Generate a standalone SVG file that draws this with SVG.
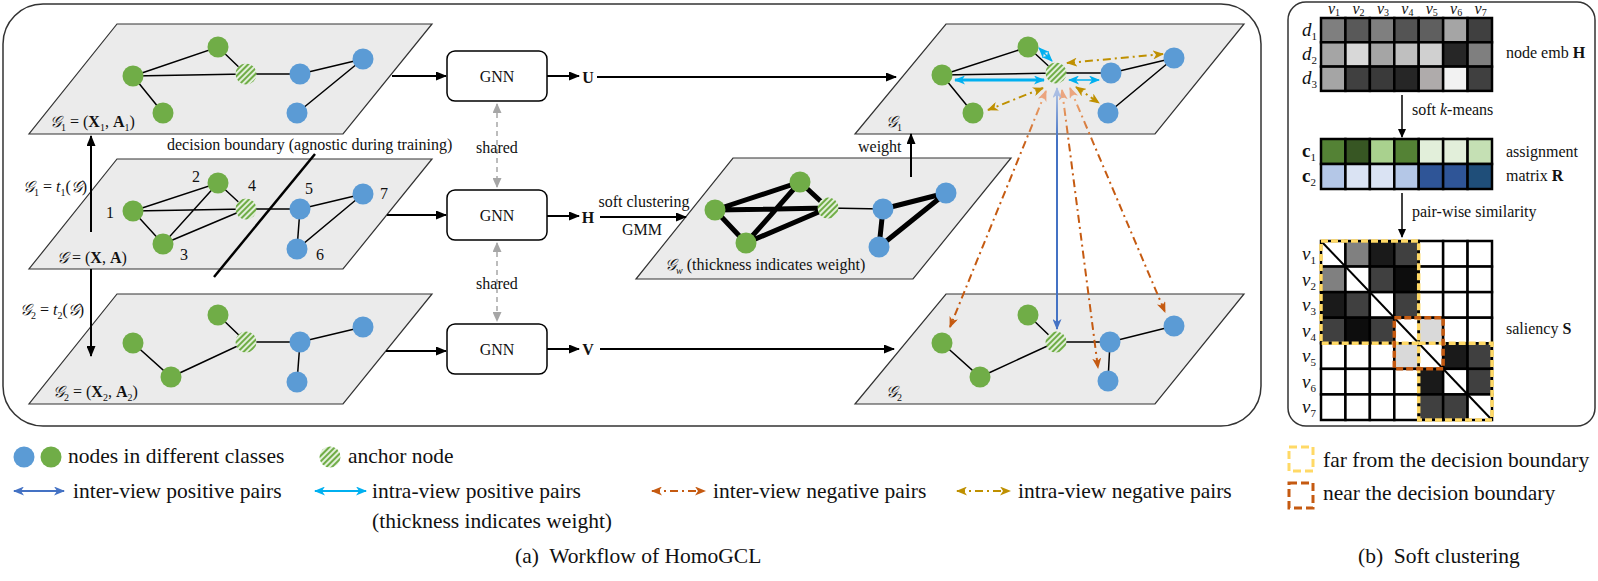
<svg xmlns="http://www.w3.org/2000/svg" width="1598" height="581" viewBox="0 0 1598 581">
<style>
text{font-family:"Liberation Serif","Times New Roman",serif;fill:#111}
.t16{font-size:16px}
.t21{font-size:21.5px}
.scr{font-family:"DejaVu Serif","DejaVu Sans","Noto Sans",serif;font-style:italic}
.plane{fill:#ebebeb;stroke:#333;stroke-width:1.2}
.e{stroke:#000;stroke-width:1.5;fill:none}
.ew{stroke:#000;stroke-width:5;fill:none;stroke-linecap:round}
.g{fill:#70ad47}
.b{fill:#5b9bd5}
.a{fill:url(#hatch)}
.box{fill:#fff;stroke:#000;stroke-width:1.5}
.arr{stroke:#000;stroke-width:2;fill:none;marker-end:url(#mBlack)}
.shr{stroke:#a6a6a6;stroke-width:1.5;stroke-dasharray:5 4;fill:none;marker-start:url(#mGray);marker-end:url(#mGray)}
.cy{stroke:#00b0f0;fill:none;marker-start:url(#mCyan);marker-end:url(#mCyan)}
.gd{stroke:#bf9000;stroke-width:2;stroke-dasharray:8 4 2 4;fill:none;marker-start:url(#mGold);marker-end:url(#mGold)}
.or{stroke:url(#gOr);stroke-width:2;stroke-dasharray:8 4 2 4;fill:none;marker-start:url(#mSal);marker-end:url(#mOr)}
.cell{stroke:#000;stroke-width:2.5}
.yb{fill:none;stroke:#ffd966;stroke-width:3.5;stroke-dasharray:7 3}
.ob{fill:none;stroke:#c55a11;stroke-width:3.5;stroke-dasharray:7 3}
</style>
<defs>
<pattern id="hatch" width="4" height="4" patternUnits="userSpaceOnUse" patternTransform="rotate(45)">
<rect width="4" height="4" fill="#e2efda"/><rect width="2" height="4" fill="#70ad47"/>
</pattern>
<linearGradient id="gOr" gradientUnits="userSpaceOnUse" x1="0" y1="90" x2="0" y2="150">
<stop offset="0" stop-color="#f4b183"/><stop offset="1" stop-color="#c55a11"/>
</linearGradient>
<linearGradient id="gBl" gradientUnits="userSpaceOnUse" x1="0" y1="88" x2="0" y2="140">
<stop offset="0" stop-color="#b4c7e7"/><stop offset="1" stop-color="#4472c4"/>
</linearGradient>
<marker id="mBlack" markerUnits="userSpaceOnUse" markerWidth="11" markerHeight="9" refX="10" refY="4.5" orient="auto"><path d="M0,0 L11,4.5 L0,9 z" fill="#000"/></marker>
<marker id="mGray" markerUnits="userSpaceOnUse" markerWidth="10" markerHeight="9" refX="9" refY="4.5" orient="auto-start-reverse"><path d="M0,0 L10,4.5 L0,9 z" fill="#a6a6a6"/></marker>
<marker id="mBlue" markerUnits="userSpaceOnUse" markerWidth="11" markerHeight="9" refX="10" refY="4.5" orient="auto-start-reverse"><path d="M0,0 L11,4.5 L0,9 L3,4.5 z" fill="#4472c4"/></marker>
<marker id="mBlueF" markerUnits="userSpaceOnUse" markerWidth="11" markerHeight="9" refX="10" refY="4.5" orient="auto-start-reverse"><path d="M0,0 L11,4.5 L0,9 L3,4.5 z" fill="#a9bde3"/></marker>
<marker id="mCyan" markerUnits="userSpaceOnUse" markerWidth="11" markerHeight="9" refX="10" refY="4.5" orient="auto-start-reverse"><path d="M0,0 L11,4.5 L0,9 L3,4.5 z" fill="#00b0f0"/></marker>
<marker id="mGold" markerUnits="userSpaceOnUse" markerWidth="11" markerHeight="9" refX="10" refY="4.5" orient="auto-start-reverse"><path d="M0,0 L11,4.5 L0,9 L3,4.5 z" fill="#bf9000"/></marker>
<marker id="mOr" markerUnits="userSpaceOnUse" markerWidth="11" markerHeight="9" refX="10" refY="4.5" orient="auto-start-reverse"><path d="M0,0 L11,4.5 L0,9 L3,4.5 z" fill="#c55a11"/></marker>
<marker id="mSal" markerUnits="userSpaceOnUse" markerWidth="11" markerHeight="9" refX="10" refY="4.5" orient="auto-start-reverse"><path d="M0,0 L11,4.5 L0,9 L3,4.5 z" fill="#eba57f"/></marker>
<marker id="mB2" markerUnits="userSpaceOnUse" markerWidth="9" markerHeight="8" refX="8" refY="4" orient="auto"><path d="M0,0 L9,4 L0,8 z" fill="#000"/></marker>
</defs>
<rect width="1598" height="581" fill="#fff"/>

<!-- panels -->
<rect id="panelA" x="3" y="4" width="1258" height="422" rx="40" fill="none" stroke="#333" stroke-width="1.5"/>
<rect id="panelB" x="1288" y="2" width="307" height="424" rx="18" fill="none" stroke="#333" stroke-width="1.5"/>

<!-- G1 plane -->
<g id="G1">
<polygon class="plane" points="117,24 432,24 343,134 29,134"/>
<path class="e" d="M133,76 L218,47 L246,74 M133,76 L246,74 L300,74 L363,59 L297,113 M133,76 L163,113"/>
<circle class="g" cx="133" cy="76" r="10.5"/><circle class="g" cx="218" cy="47" r="10.5"/><circle class="g" cx="163" cy="113" r="10.5"/>
<circle class="a" cx="246" cy="74" r="10.5"/>
<circle class="b" cx="300" cy="74" r="10.5"/><circle class="b" cx="363" cy="59" r="10.5"/><circle class="b" cx="297" cy="113" r="10.5"/>
<text x="50" y="127" class="t16"><tspan class="scr">𝒢</tspan><tspan font-size="10" dy="4">1</tspan><tspan dy="-4"> = (</tspan><tspan font-weight="bold">X</tspan><tspan font-size="10" dy="4">1</tspan><tspan dy="-4">, </tspan><tspan font-weight="bold">A</tspan><tspan font-size="10" dy="4">1</tspan><tspan dy="-4">)</tspan></text>
</g>

<!-- G plane -->
<g id="G">
<polygon class="plane" points="117,159 432,159 343,269 29,269"/>
<path class="e" d="M133,211 L218,183 L246,209 M133,211 L246,209 L300,209 L363,194 L297,249 L300,209 M133,211 L163,244 L218,183 M163,244 L246,209"/>
<circle class="g" cx="133" cy="211" r="10.5"/><circle class="g" cx="218" cy="183" r="10.5"/><circle class="g" cx="163" cy="244" r="10.5"/>
<circle class="a" cx="246" cy="209" r="10.5"/>
<circle class="b" cx="300" cy="209" r="10.5"/><circle class="b" cx="363" cy="194" r="10.5"/><circle class="b" cx="297" cy="249" r="10.5"/>
<text class="t16" x="106" y="218">1</text><text class="t16" x="192" y="182">2</text><text class="t16" x="180" y="260">3</text>
<text class="t16" x="248" y="191">4</text><text class="t16" x="305" y="194">5</text><text class="t16" x="316" y="260">6</text><text class="t16" x="380" y="199">7</text>
<text x="57" y="263" class="t16"><tspan class="scr">𝒢</tspan> = (<tspan font-weight="bold">X</tspan>, <tspan font-weight="bold">A</tspan>)</text>
</g>

<!-- G2 plane -->
<g id="G2">
<polygon class="plane" points="117,294 432,294 343,404 29,404"/>
<path class="e" d="M133,343 L171,377 L246,342 L300,342 L363,327 M218,315 L246,342 M300,342 L297,382"/>
<circle class="g" cx="133" cy="343" r="10.5"/><circle class="g" cx="218" cy="315" r="10.5"/><circle class="g" cx="171" cy="377" r="10.5"/>
<circle class="a" cx="246" cy="342" r="10.5"/>
<circle class="b" cx="300" cy="342" r="10.5"/><circle class="b" cx="363" cy="327" r="10.5"/><circle class="b" cx="297" cy="382" r="10.5"/>
<text x="53" y="397" class="t16"><tspan class="scr">𝒢</tspan><tspan font-size="10" dy="4">2</tspan><tspan dy="-4"> = (</tspan><tspan font-weight="bold">X</tspan><tspan font-size="10" dy="4">2</tspan><tspan dy="-4">, </tspan><tspan font-weight="bold">A</tspan><tspan font-size="10" dy="4">2</tspan><tspan dy="-4">)</tspan></text>
</g>

<!-- decision boundary -->
<g id="boundary">
<line x1="315" y1="154" x2="214" y2="277" stroke="#000" stroke-width="2.5"/>
<text x="167" y="150" class="t16">decision boundary (agnostic during training)</text>
</g>

<!-- GNN boxes -->
<g id="gnn1"><rect class="box" x="447" y="51" width="100" height="50" rx="8"/><text class="t16" x="497" y="82" text-anchor="middle">GNN</text></g>
<g id="gnn2"><rect class="box" x="447" y="190" width="100" height="50" rx="8"/><text class="t16" x="497" y="221" text-anchor="middle">GNN</text></g>
<g id="gnn3"><rect class="box" x="447" y="324" width="100" height="50" rx="8"/><text class="t16" x="497" y="355" text-anchor="middle">GNN</text></g>

<!-- Gw plane -->
<g id="Gw">
<polygon class="plane" points="733,158 1011,158 913,279 636,279"/>
<line class="e" x1="828" y1="208" x2="883" y2="209"/>
<path class="ew" d="M715,210 L800,182 L828,208 M715,210 L828,208 L746,243 L800,182 M715,210 L746,243 M883,209 L946,193 L879,247 Z"/>
<circle class="g" cx="715" cy="210" r="10.5"/><circle class="g" cx="800" cy="182" r="10.5"/><circle class="g" cx="746" cy="243" r="10.5"/>
<circle class="a" cx="828" cy="208" r="10.5"/>
<circle class="b" cx="883" cy="209" r="10.5"/><circle class="b" cx="946" cy="193" r="10.5"/><circle class="b" cx="879" cy="247" r="10.5"/>
<text x="665" y="270" class="t16"><tspan class="scr">𝒢</tspan><tspan font-size="10" font-style="italic" dy="4">w</tspan><tspan dy="-4">  (thickness indicates weight)</tspan></text>
</g>

<!-- G1' plane -->
<g id="G1v">
<polygon class="plane" points="946,24 1244,24 1155,134 855,134"/>
<path class="e" d="M942,75 L1028,47 L1056,73 M942,75 L1056,73 L1111,73 L1174,58 L1108,113 M942,75 L973,113"/>
<circle class="g" cx="942" cy="75" r="10.5"/><circle class="g" cx="1028" cy="47" r="10.5"/><circle class="g" cx="973" cy="113" r="10.5"/>
<circle class="a" cx="1056" cy="73" r="10.5"/>
<circle class="b" cx="1111" cy="73" r="10.5"/><circle class="b" cx="1174" cy="58" r="10.5"/><circle class="b" cx="1108" cy="113" r="10.5"/>
<text x="886" y="127" class="t16"><tspan class="scr">𝒢</tspan><tspan font-size="10" dy="4">1</tspan></text>
</g>

<!-- G2' plane -->
<g id="G2v">
<polygon class="plane" points="946,294 1244,294 1155,404 855,404"/>
<path class="e" d="M942,343 L980,377 L1056,342 L1110,342 L1174,326 M1028,315 L1056,342 M1110,342 L1108,381"/>
<circle class="g" cx="942" cy="343" r="10.5"/><circle class="g" cx="1028" cy="315" r="10.5"/><circle class="g" cx="980" cy="377" r="10.5"/>
<circle class="a" cx="1056" cy="342" r="10.5"/>
<circle class="b" cx="1110" cy="342" r="10.5"/><circle class="b" cx="1174" cy="326" r="10.5"/><circle class="b" cx="1108" cy="381" r="10.5"/>
<text x="886" y="397" class="t16"><tspan class="scr">𝒢</tspan><tspan font-size="10" dy="4">2</tspan></text>
</g>

<!-- connectors -->
<g id="connectors">
<line class="arr" x1="91" y1="232" x2="91" y2="136"/>
<line class="arr" x1="91" y1="269" x2="91" y2="356"/>
<text x="23" y="192" class="t16"><tspan class="scr">𝒢</tspan><tspan font-size="10" dy="4">1</tspan><tspan dy="-4"> = </tspan><tspan font-style="italic">t</tspan><tspan font-size="10" dy="4">1</tspan><tspan dy="-4">(</tspan><tspan class="scr">𝒢</tspan>)</text>
<text x="20" y="315" class="t16"><tspan class="scr">𝒢</tspan><tspan font-size="10" dy="4">2</tspan><tspan dy="-4"> = </tspan><tspan font-style="italic">t</tspan><tspan font-size="10" dy="4">2</tspan><tspan dy="-4">(</tspan><tspan class="scr">𝒢</tspan>)</text>

<line class="arr" x1="392" y1="76" x2="446" y2="76"/>
<line class="arr" x1="387" y1="215" x2="446" y2="215"/>
<line class="arr" x1="386" y1="351" x2="446" y2="351"/>

<line class="shr" x1="497" y1="104" x2="497" y2="187"/>
<text class="t16" x="497" y="153" text-anchor="middle">shared</text>
<line class="shr" x1="497" y1="243" x2="497" y2="321"/>
<text class="t16" x="497" y="289" text-anchor="middle">shared</text>

<line class="arr" x1="547" y1="76" x2="579" y2="76"/>
<text class="t16" x="588" y="83" text-anchor="middle" font-weight="bold">U</text>
<line class="arr" x1="597" y1="77" x2="896" y2="77"/>

<line class="arr" x1="547" y1="216" x2="579" y2="216"/>
<text class="t16" x="588" y="223" text-anchor="middle" font-weight="bold">H</text>
<line class="arr" x1="600" y1="217" x2="686" y2="217"/>
<text class="t16" x="644" y="207" text-anchor="middle">soft clustering</text>
<text class="t16" x="642" y="235" text-anchor="middle">GMM</text>

<line class="arr" x1="547" y1="349" x2="579" y2="349"/>
<text class="t16" x="588" y="355" text-anchor="middle" font-weight="bold">V</text>
<line class="arr" x1="600" y1="349" x2="894" y2="349"/>

<line class="arr" x1="911" y1="177" x2="911" y2="134"/>
<text class="t16" x="858" y="152">weight</text>

<!-- contrast pairs -->
<line class="cy" stroke-width="3" x1="955" y1="80" x2="1044" y2="80"/>
<line class="cy" stroke-width="1.5" x1="1069" y1="80" x2="1099" y2="80"/>
<line class="cy" stroke-width="1.5" x1="1039" y1="48" x2="1052" y2="61"/>
<line class="gd" x1="1067" y1="63" x2="1163" y2="54"/>
<line class="gd" x1="1043" y1="88" x2="988" y2="110"/>
<line class="gd" x1="1076" y1="87" x2="1099" y2="103"/>
<line class="or" x1="1046" y1="91" x2="950" y2="327"/>
<line class="or" x1="1062" y1="90" x2="1098" y2="368"/>
<line class="or" x1="1070" y1="88" x2="1165" y2="312"/>
<line x1="1057" y1="88" x2="1057" y2="329" stroke="url(#gBl)" stroke-width="2" marker-start="url(#mBlueF)" marker-end="url(#mBlue)"/>
</g>

<!-- soft clustering panel -->
<g id="matH">
<g class="cell">
<rect x="1321" y="18" width="24.43" height="24.3" fill="#7f7f7f"/><rect x="1345.43" y="18" width="24.43" height="24.3" fill="#595959"/><rect x="1369.86" y="18" width="24.43" height="24.3" fill="#7f7f7f"/><rect x="1394.29" y="18" width="24.43" height="24.3" fill="#545454"/><rect x="1418.71" y="18" width="24.43" height="24.3" fill="#5f5f5f"/><rect x="1443.14" y="18" width="24.43" height="24.3" fill="#a5a5a5"/><rect x="1467.57" y="18" width="24.43" height="24.3" fill="#404040"/>
<rect x="1321" y="42.3" width="24.43" height="24.3" fill="#a5a5a5"/><rect x="1345.43" y="42.3" width="24.43" height="24.3" fill="#d8d8d8"/><rect x="1369.86" y="42.3" width="24.43" height="24.3" fill="#a5a5a5"/><rect x="1394.29" y="42.3" width="24.43" height="24.3" fill="#bfbfbf"/><rect x="1418.71" y="42.3" width="24.43" height="24.3" fill="#d0d0d0"/><rect x="1443.14" y="42.3" width="24.43" height="24.3" fill="#262626"/><rect x="1467.57" y="42.3" width="24.43" height="24.3" fill="#7f7f7f"/>
<rect x="1321" y="66.6" width="24.43" height="24.3" fill="#a5a5a5"/><rect x="1345.43" y="66.6" width="24.43" height="24.3" fill="#404040"/><rect x="1369.86" y="66.6" width="24.43" height="24.3" fill="#3a3a3a"/><rect x="1394.29" y="66.6" width="24.43" height="24.3" fill="#262626"/><rect x="1418.71" y="66.6" width="24.43" height="24.3" fill="#afabab"/><rect x="1443.14" y="66.6" width="24.43" height="24.3" fill="#f2f2f2"/><rect x="1467.57" y="66.6" width="24.43" height="24.3" fill="#404040"/>
</g>
<g font-size="16" font-style="italic">
<text x="1328" y="14">v<tspan font-size="10" font-style="normal" dy="2">1</tspan></text>
<text x="1352.4" y="14">v<tspan font-size="10" font-style="normal" dy="2">2</tspan></text>
<text x="1376.9" y="14">v<tspan font-size="10" font-style="normal" dy="2">3</tspan></text>
<text x="1401.3" y="14">v<tspan font-size="10" font-style="normal" dy="2">4</tspan></text>
<text x="1425.7" y="14">v<tspan font-size="10" font-style="normal" dy="2">5</tspan></text>
<text x="1450.1" y="14">v<tspan font-size="10" font-style="normal" dy="2">6</tspan></text>
<text x="1474.6" y="14">v<tspan font-size="10" font-style="normal" dy="2">7</tspan></text>
</g>
<g font-size="19" font-style="italic">
<text x="1302" y="36">d<tspan font-size="11" font-style="normal" dy="4">1</tspan></text>
<text x="1302" y="60">d<tspan font-size="11" font-style="normal" dy="4">2</tspan></text>
<text x="1302" y="84">d<tspan font-size="11" font-style="normal" dy="4">3</tspan></text>
</g>
<text class="t16" x="1506" y="58">node emb <tspan font-weight="bold">H</tspan></text>
</g>

<g id="matR">
<g class="cell">
<rect x="1321" y="139" width="24.43" height="25" fill="#548235"/><rect x="1345.43" y="139" width="24.43" height="25" fill="#375623"/><rect x="1369.86" y="139" width="24.43" height="25" fill="#a9d18e"/><rect x="1394.29" y="139" width="24.43" height="25" fill="#548235"/><rect x="1418.71" y="139" width="24.43" height="25" fill="#e2efda"/><rect x="1443.14" y="139" width="24.43" height="25" fill="#e2efda"/><rect x="1467.57" y="139" width="24.43" height="25" fill="#c5e0b4"/>
<rect x="1321" y="164" width="24.43" height="25" fill="#b4c7e7"/><rect x="1345.43" y="164" width="24.43" height="25" fill="#dae3f3"/><rect x="1369.86" y="164" width="24.43" height="25" fill="#dae3f3"/><rect x="1394.29" y="164" width="24.43" height="25" fill="#b4c7e7"/><rect x="1418.71" y="164" width="24.43" height="25" fill="#2f5597"/><rect x="1443.14" y="164" width="24.43" height="25" fill="#2f5597"/><rect x="1467.57" y="164" width="24.43" height="25" fill="#1f4e79"/>
</g>
<text x="1302" y="157" font-size="19" font-weight="bold">c<tspan font-size="11" font-weight="normal" dy="4">1</tspan></text>
<text x="1302" y="182" font-size="19" font-weight="bold">c<tspan font-size="11" font-weight="normal" dy="4">2</tspan></text>
<text class="t16" x="1506" y="157">assignment</text>
<text class="t16" x="1506" y="181">matrix <tspan font-weight="bold">R</tspan></text>
</g>

<g id="matS">
<g class="cell" fill="#fff">
<rect x="1321" y="241" width="24.43" height="25.57"/><rect x="1345.43" y="241" width="24.43" height="25.57" fill="#808080"/><rect x="1369.86" y="241" width="24.43" height="25.57" fill="#1a1a1a"/><rect x="1394.29" y="241" width="24.43" height="25.57" fill="#404040"/><rect x="1418.71" y="241" width="24.43" height="25.57"/><rect x="1443.14" y="241" width="24.43" height="25.57"/><rect x="1467.57" y="241" width="24.43" height="25.57"/>
<rect x="1321" y="266.57" width="24.43" height="25.57" fill="#808080"/><rect x="1345.43" y="266.57" width="24.43" height="25.57"/><rect x="1369.86" y="266.57" width="24.43" height="25.57" fill="#404040"/><rect x="1394.29" y="266.57" width="24.43" height="25.57" fill="#0d0d0d"/><rect x="1418.71" y="266.57" width="24.43" height="25.57"/><rect x="1443.14" y="266.57" width="24.43" height="25.57"/><rect x="1467.57" y="266.57" width="24.43" height="25.57"/>
<rect x="1321" y="292.14" width="24.43" height="25.57" fill="#1a1a1a"/><rect x="1345.43" y="292.14" width="24.43" height="25.57" fill="#404040"/><rect x="1369.86" y="292.14" width="24.43" height="25.57"/><rect x="1394.29" y="292.14" width="24.43" height="25.57" fill="#404040"/><rect x="1418.71" y="292.14" width="24.43" height="25.57"/><rect x="1443.14" y="292.14" width="24.43" height="25.57"/><rect x="1467.57" y="292.14" width="24.43" height="25.57"/>
<rect x="1321" y="317.71" width="24.43" height="25.57" fill="#404040"/><rect x="1345.43" y="317.71" width="24.43" height="25.57" fill="#0d0d0d"/><rect x="1369.86" y="317.71" width="24.43" height="25.57" fill="#404040"/><rect x="1394.29" y="317.71" width="24.43" height="25.57"/><rect x="1418.71" y="317.71" width="24.43" height="25.57" fill="#d9d9d9"/><rect x="1443.14" y="317.71" width="24.43" height="25.57"/><rect x="1467.57" y="317.71" width="24.43" height="25.57"/>
<rect x="1321" y="343.29" width="24.43" height="25.57"/><rect x="1345.43" y="343.29" width="24.43" height="25.57"/><rect x="1369.86" y="343.29" width="24.43" height="25.57"/><rect x="1394.29" y="343.29" width="24.43" height="25.57" fill="#d9d9d9"/><rect x="1418.71" y="343.29" width="24.43" height="25.57"/><rect x="1443.14" y="343.29" width="24.43" height="25.57" fill="#1a1a1a"/><rect x="1467.57" y="343.29" width="24.43" height="25.57" fill="#404040"/>
<rect x="1321" y="368.86" width="24.43" height="25.57"/><rect x="1345.43" y="368.86" width="24.43" height="25.57"/><rect x="1369.86" y="368.86" width="24.43" height="25.57"/><rect x="1394.29" y="368.86" width="24.43" height="25.57"/><rect x="1418.71" y="368.86" width="24.43" height="25.57" fill="#1a1a1a"/><rect x="1443.14" y="368.86" width="24.43" height="25.57"/><rect x="1467.57" y="368.86" width="24.43" height="25.57" fill="#404040"/>
<rect x="1321" y="394.43" width="24.43" height="25.57"/><rect x="1345.43" y="394.43" width="24.43" height="25.57"/><rect x="1369.86" y="394.43" width="24.43" height="25.57"/><rect x="1394.29" y="394.43" width="24.43" height="25.57"/><rect x="1418.71" y="394.43" width="24.43" height="25.57" fill="#404040"/><rect x="1443.14" y="394.43" width="24.43" height="25.57" fill="#404040"/><rect x="1467.57" y="394.43" width="24.43" height="25.57"/>
</g>
<line x1="1321" y1="241" x2="1492" y2="420" stroke="#000" stroke-width="2"/>
<rect class="yb" x="1321" y="241" width="97.71" height="102.29"/>
<rect class="yb" x="1418.71" y="343.29" width="73.29" height="76.71"/>
<rect class="ob" x="1394.29" y="317.71" width="48.85" height="51.15"/>
<g font-size="19" font-style="italic">
<text x="1302" y="260">v<tspan font-size="11" font-style="normal" dy="4">1</tspan></text>
<text x="1302" y="286">v<tspan font-size="11" font-style="normal" dy="4">2</tspan></text>
<text x="1302" y="311">v<tspan font-size="11" font-style="normal" dy="4">3</tspan></text>
<text x="1302" y="337">v<tspan font-size="11" font-style="normal" dy="4">4</tspan></text>
<text x="1302" y="362">v<tspan font-size="11" font-style="normal" dy="4">5</tspan></text>
<text x="1302" y="388">v<tspan font-size="11" font-style="normal" dy="4">6</tspan></text>
<text x="1302" y="413">v<tspan font-size="11" font-style="normal" dy="4">7</tspan></text>
</g>
<text class="t16" x="1506" y="334">saliency <tspan font-weight="bold">S</tspan></text>
</g>

<g id="panelBarrows">
<line x1="1402" y1="95" x2="1402" y2="137" stroke="#000" stroke-width="1.5" marker-end="url(#mB2)"/>
<text class="t16" x="1412" y="115">soft <tspan font-style="italic">k</tspan>-means</text>
<line x1="1402" y1="193" x2="1402" y2="237" stroke="#000" stroke-width="1.5" marker-end="url(#mB2)"/>
<text class="t16" x="1412" y="217">pair-wise similarity</text>
</g>

<!-- legend -->
<g id="legend">
<circle class="b" cx="24" cy="457" r="10.5"/><circle class="g" cx="51" cy="457" r="10.5"/>
<text class="t21" x="68" y="463">nodes in different classes</text>
<circle class="a" cx="330" cy="457" r="10.5"/>
<text class="t21" x="348" y="463">anchor node</text>
<line x1="14" y1="491" x2="64" y2="491" stroke="#4472c4" stroke-width="2" marker-start="url(#mBlue)" marker-end="url(#mBlue)"/>
<text class="t21" x="73" y="498">inter-view positive pairs</text>
<line x1="315" y1="491" x2="366" y2="491" stroke="#00b0f0" stroke-width="2" marker-start="url(#mCyan)" marker-end="url(#mCyan)"/>
<text class="t21" x="372" y="498">intra-view positive pairs</text>
<text class="t21" x="372" y="528">(thickness indicates weight)</text>
<line x1="652" y1="491" x2="705" y2="491" stroke="#c55a11" stroke-width="2" stroke-dasharray="8 4 2 4" marker-start="url(#mOr)" marker-end="url(#mOr)"/>
<text class="t21" x="713" y="498">inter-view negative pairs</text>
<line x1="957" y1="491" x2="1010" y2="491" stroke="#bf9000" stroke-width="2" stroke-dasharray="8 4 2 4" marker-start="url(#mGold)" marker-end="url(#mGold)"/>
<text class="t21" x="1018" y="498">intra-view negative pairs</text>
<rect x="1289" y="447" width="24" height="24" fill="none" stroke="#ffd966" stroke-width="3" stroke-dasharray="8 4"/>
<text class="t21" x="1323" y="467">far from the decision boundary</text>
<rect x="1289" y="483" width="24" height="25" fill="none" stroke="#c55a11" stroke-width="3" stroke-dasharray="8 4"/>
<text class="t21" x="1323" y="500">near the decision boundary</text>
<text class="t21" x="515" y="563">(a)&#160; Workflow of HomoGCL</text>
<text class="t21" x="1358" y="563">(b)&#160; Soft clustering</text>
</g>
</svg>
